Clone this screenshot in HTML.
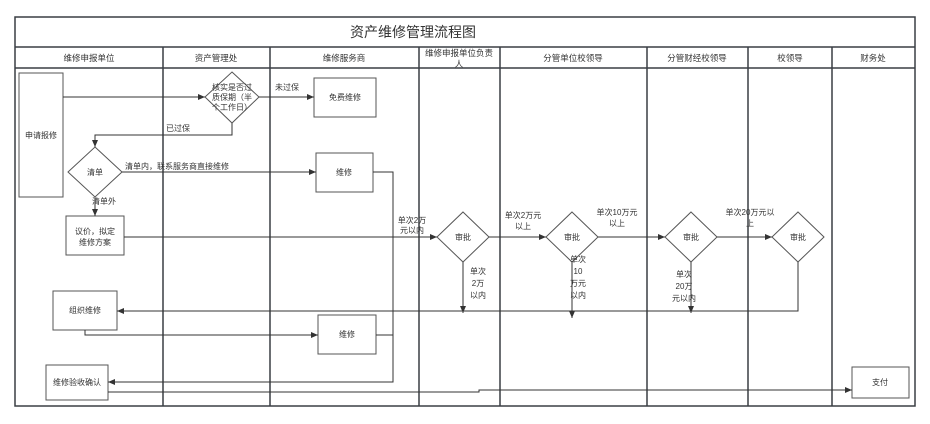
<!DOCTYPE html>
<html><head><meta charset="utf-8"><style>
html,body{margin:0;padding:0;background:#fff;width:930px;height:424px;overflow:hidden}
text{font-family:"Liberation Sans","Noto Sans CJK SC",sans-serif;fill:#333}
</style></head><body>
<svg width="930" height="424" viewBox="0 0 930 424" xmlns="http://www.w3.org/2000/svg">
<defs><marker id="a" markerWidth="8" markerHeight="8" refX="7" refY="4" orient="auto" markerUnits="userSpaceOnUse"><path d="M0,1 L7,4 L0,7 Z" fill="#333"/></marker></defs>
<g fill="none" stroke="#3a3f44" stroke-width="1.5">
<rect x="15" y="17" width="900" height="389"/>
<line x1="15" y1="47" x2="915" y2="47"/>
<line x1="15" y1="68" x2="915" y2="68"/>
<line x1="163" y1="47" x2="163" y2="406"/>
<line x1="270" y1="47" x2="270" y2="406"/>
<line x1="419" y1="47" x2="419" y2="406"/>
<line x1="500" y1="47" x2="500" y2="406"/>
<line x1="647" y1="47" x2="647" y2="406"/>
<line x1="748" y1="47" x2="748" y2="406"/>
<line x1="832" y1="47" x2="832" y2="406"/>
</g>
<g font-size="8.5" text-anchor="middle">
<text x="413" y="37" font-size="14">资产维修管理流程图</text>
<text x="89" y="61">维修申报单位</text>
<text x="216" y="61">资产管理处</text>
<text x="344" y="61">维修服务商</text>
<text x="459" y="56">维修申报单位负责</text>
<text x="459" y="67">人</text>
<text x="573" y="61">分管单位校领导</text>
<text x="697" y="61">分管财经校领导</text>
<text x="790" y="61">校领导</text>
<text x="873" y="61">财务处</text>
</g>
<g fill="#fff" stroke="#555" stroke-width="1">
<rect x="19" y="73" width="44" height="124"/>
<polygon points="232,72 259,97 232,123 205,97"/>
<rect x="314" y="78" width="62" height="39"/>
<polygon points="95,147 122,172 95,197 68,172"/>
<rect x="316" y="153" width="57" height="39"/>
<rect x="66" y="216" width="58" height="39"/>
<polygon points="463,212 489,237 463,262 437,237"/>
<polygon points="572,212 598,237 572,262 546,237"/>
<polygon points="691,212 717,237 691,262 665,237"/>
<polygon points="798,212 824,237 798,262 772,237"/>
<rect x="53" y="291" width="64" height="39"/>
<rect x="318" y="315" width="58" height="39"/>
<rect x="46" y="365" width="62" height="35"/>
<rect x="852" y="367" width="57" height="31"/>
</g>
<g fill="none" stroke="#333" stroke-width="1">
<line x1="63" y1="97" x2="205" y2="97" marker-end="url(#a)"/>
<line x1="259" y1="97" x2="314" y2="97" marker-end="url(#a)"/>
<polyline points="232,123 232,135 95,135 95,147" marker-end="url(#a)"/>
<line x1="122" y1="172" x2="316" y2="172" marker-end="url(#a)"/>
<line x1="95" y1="197" x2="95" y2="216" marker-end="url(#a)"/>
<line x1="124" y1="237" x2="437" y2="237" marker-end="url(#a)"/>
<polyline points="373,172 393,172 393,382 108,382" marker-end="url(#a)"/>
<line x1="489" y1="237" x2="546" y2="237" marker-end="url(#a)"/>
<line x1="598" y1="237" x2="665" y2="237" marker-end="url(#a)"/>
<line x1="717" y1="237" x2="772" y2="237" marker-end="url(#a)"/>
<line x1="463" y1="262" x2="463" y2="313" marker-end="url(#a)"/>
<line x1="572" y1="262" x2="572" y2="318" marker-end="url(#a)"/>
<line x1="691" y1="262" x2="691" y2="313" marker-end="url(#a)"/>
<polyline points="798,262 798,311 117,311" marker-end="url(#a)"/>
<polyline points="85,330 85,335 318,335" marker-end="url(#a)"/>
<line x1="376" y1="335" x2="393" y2="335"/>
<polyline points="108,392 479,392 479,390 852,390" marker-end="url(#a)"/>
</g>
<g font-size="8" text-anchor="middle">
<text x="41" y="138">申请报修</text>
<text x="232" y="90">核实是否过</text>
<text x="232" y="100">质保期（半</text>
<text x="232" y="110">个工作日）</text>
<text x="345" y="100">免费维修</text>
<text x="95" y="175">清单</text>
<text x="344" y="175">维修</text>
<text x="95" y="234">议价，拟定</text>
<text x="95" y="245">维修方案</text>
<text x="463" y="240">审批</text>
<text x="572" y="240">审批</text>
<text x="691" y="240">审批</text>
<text x="798" y="240">审批</text>
<text x="85" y="313">组织维修</text>
<text x="347" y="337">维修</text>
<text x="77" y="385">维修验收确认</text>
<text x="880" y="385">支付</text>
<text x="287" y="90">未过保</text>
<text x="178" y="131">已过保</text>
<text x="104" y="204">清单外</text>
<text x="412" y="223">单次2万</text>
<text x="412" y="233">元以内</text>
<text x="523" y="218">单次2万元</text>
<text x="523" y="229">以上</text>
<text x="617" y="215">单次10万元</text>
<text x="617" y="226">以上</text>
<text x="750" y="215">单次20万元以</text>
<text x="750" y="226">上</text>
<text x="478" y="274">单次</text>
<text x="478" y="286">2万</text>
<text x="478" y="298">以内</text>
<text x="578" y="262">单次</text>
<text x="578" y="274">10</text>
<text x="578" y="286">万元</text>
<text x="578" y="298">以内</text>
<text x="684" y="277">单次</text>
<text x="684" y="289">20万</text>
<text x="684" y="301">元以内</text>
</g>
<text x="125" y="169" font-size="8">清单内，联系服务商直接维修</text>
</svg>
</body></html>
